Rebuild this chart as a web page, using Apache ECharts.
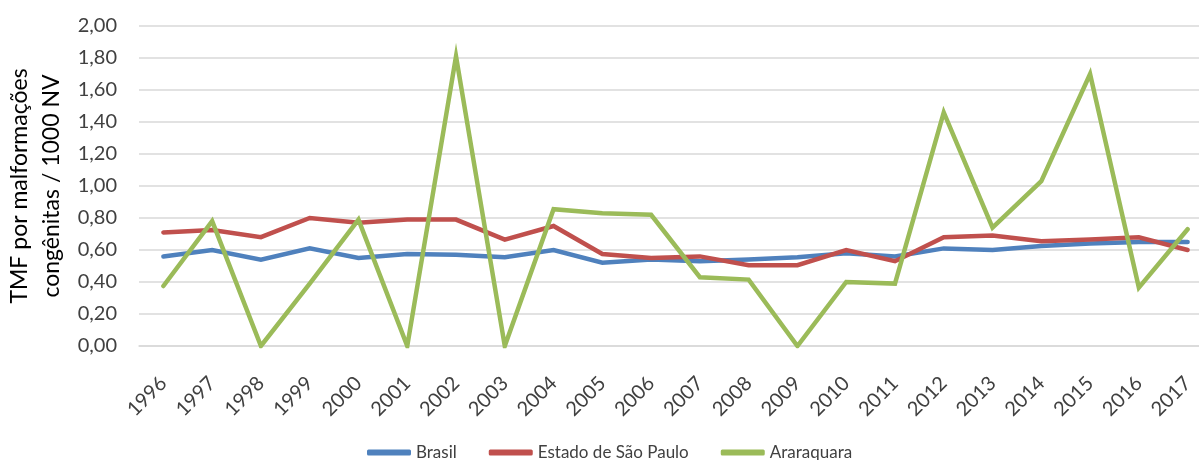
<!DOCTYPE html>
<html>
<head>
<meta charset="utf-8">
<script src="https://cdn.jsdelivr.net/npm/echarts@6/dist/echarts.min.js"></script>
<style>
  html, body { margin: 0; padding: 0; background: #fff; }
</style>
</head>
<body>
<div id="main" style="width:1199px;height:460px;"></div>
<script>
// anos
var anos = ['1996', '1997', '1998', '1999', '2000', '2001', '2002', '2003', '2004', '2005', '2006',
  '2007', '2008', '2009', '2010', '2011', '2012', '2013', '2014', '2015', '2016', '2017'];

// TMF por malformações congênitas / 1000 NV
var brasil = [0.56, 0.60, 0.54, 0.61, 0.55, 0.575, 0.57, 0.555, 0.60, 0.52, 0.54,
  0.53, 0.54, 0.555, 0.58, 0.56, 0.61, 0.60, 0.625, 0.64, 0.65, 0.65];
var saoPaulo = [0.71, 0.725, 0.68, 0.80, 0.77, 0.79, 0.79, 0.665, 0.75, 0.575, 0.55,
  0.56, 0.505, 0.505, 0.60, 0.53, 0.68, 0.69, 0.655, 0.665, 0.68, 0.60];
var araraquara = [0.375, 0.78, 0, 0.39, 0.79, 0, 1.81, 0, 0.855, 0.83, 0.82,
  0.43, 0.415, 0, 0.40, 0.39, 1.46, 0.74, 1.03, 1.70, 0.365, 0.73];

var fonte = 'Lato, Noto Sans, sans-serif';

var myChart = echarts.init(document.getElementById('main'));

function linha(nome, dados, cor) {
  return {
    name: nome,
    type: 'line',
    data: dados,
    symbol: 'none',
    smooth: false,
    lineStyle: { color: cor, width: 4.5, cap: 'round', join: 'miter' },
    itemStyle: { color: cor }
  };
}

var option = {
  animation: false,
  textStyle: { fontFamily: fonte },
  grid: { left: 139, top: 26, width: 1073, height: 320, containLabel: false, outerBoundsMode: 'none' },
  legend: {
    bottom: -6,
    left: 362,
    itemWidth: 44,
    itemHeight: 6,
    itemGap: 32,
    icon: 'roundRect',
    textStyle: { fontSize: 17, color: '#404040', fontFamily: fonte },
    data: ['Brasil', 'Estado de São Paulo', 'Araraquara']
  },
  xAxis: {
    type: 'category',
    data: anos,
    boundaryGap: true,
    axisLine: { show: true, lineStyle: { color: '#D9D9D9', width: 1.5 } },
    axisTick: { show: false },
    axisLabel: { rotate: 45, fontSize: 20, color: '#404040', margin: 34, interval: 0 }
  },
  yAxis: {
    type: 'value',
    min: 0,
    max: 2,
    interval: 0.2,
    name: 'TMF por malformações\ncongênitas / 1000 NV',
    nameLocation: 'middle',
    nameGap: 71,
    nameMoveOverlap: false,
    nameTextStyle: { fontSize: 23, color: '#000', lineHeight: 32 },
    axisLine: { show: false },
    axisTick: { show: false },
    axisLabel: {
      fontSize: 20,
      color: '#404040',
      margin: 22,
      formatter: function (v) { return v.toFixed(2).replace('.', ','); }
    },
    splitLine: { lineStyle: { color: '#D9D9D9', width: 1.5 } }
  },
  series: [
    linha('Brasil', brasil, '#4F81BD'),
    linha('Estado de São Paulo', saoPaulo, '#C0504D'),
    linha('Araraquara', araraquara, '#9BBB59')
  ]
};

myChart.setOption(option);
</script>
</body>
</html>
